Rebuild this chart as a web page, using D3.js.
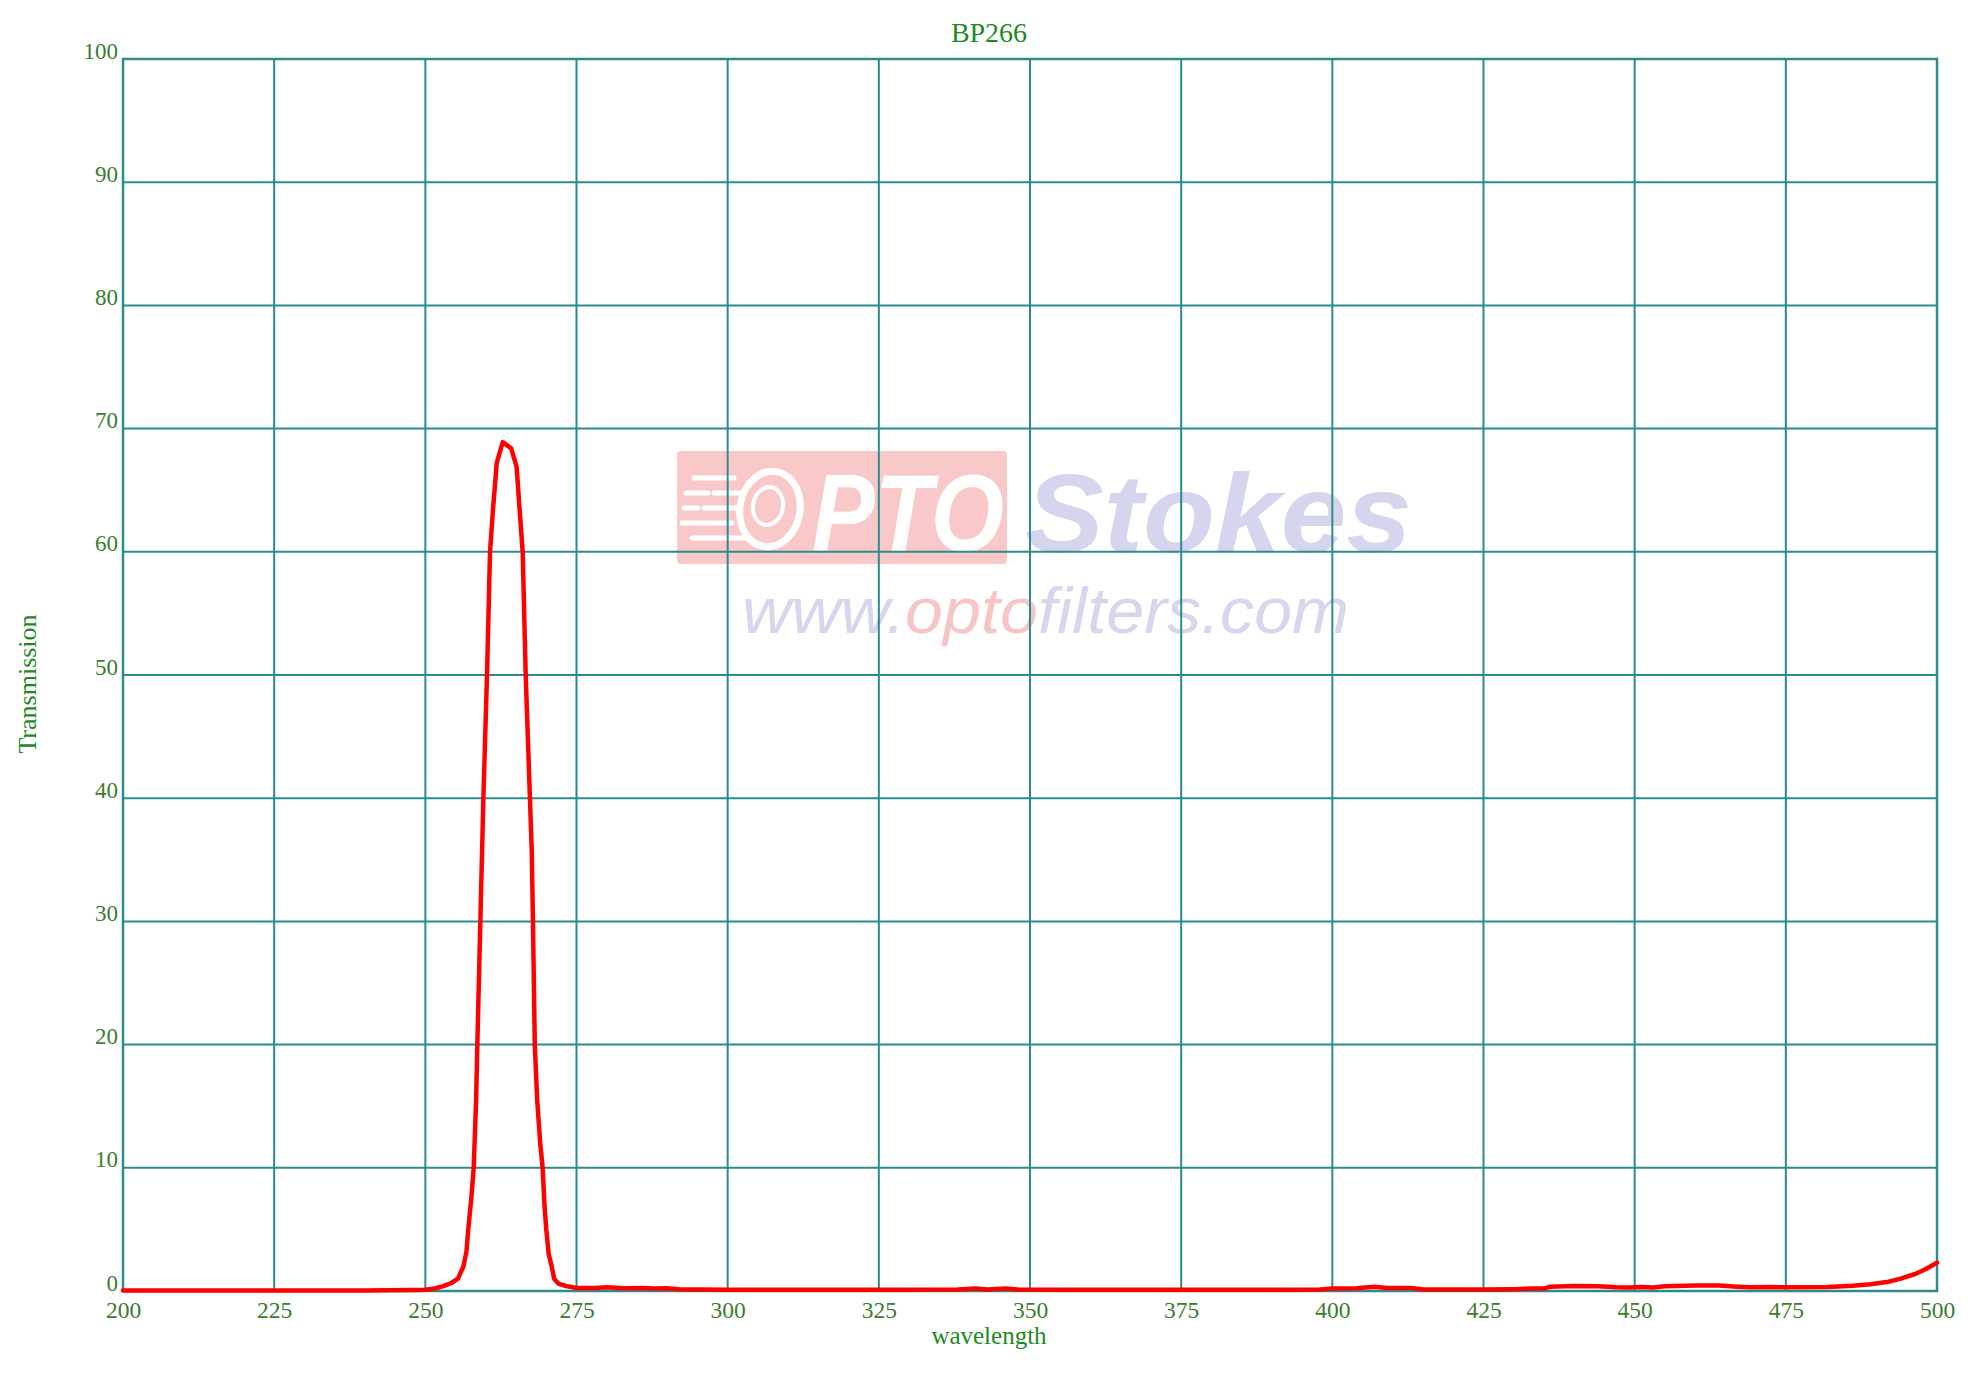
<!DOCTYPE html>
<html>
<head>
<meta charset="utf-8">
<script src="https://cdn.jsdelivr.net/npm/d3@7"></script>
<style>
  html, body { margin: 0; padding: 0; background: #ffffff; }
  svg { display: block; }
</style>
</head>
<body>
<svg id="chart" width="1973" height="1386"></svg>
<script>
// ---- data ----
const chartTitle = "BP266";
const xLabel = "wavelength";
const yLabel = "Transmission";
const xTicks = [200, 225, 250, 275, 300, 325, 350, 375, 400, 425, 450, 475, 500];
const yTicks = [0, 10, 20, 30, 40, 50, 60, 70, 80, 90, 100];
const wavelength = [
  200, 210, 220, 230, 240, 248, 250, 251.5, 253, 254.3, 255.4, 256.3, 256.8, 257.1, 257.6,
  258.0, 258.4, 258.6, 259.1, 259.6, 260.2, 260.7, 261.2, 261.5, 261.8, 262.8, 264.2, 265.1,
  265.6, 266.1, 266.6, 267.3, 267.6, 267.8, 268.1, 268.5, 269.0, 269.4, 269.7, 270.0, 270.4,
  270.9, 271.3, 272.0, 273.3, 275.0, 278, 280, 283, 286, 288, 290, 292, 300, 320, 338, 341,
  343, 346, 348, 360, 380, 398, 400, 404, 407, 409, 413, 415, 425, 430, 433, 435, 436, 440,
  444, 447, 449, 451, 453, 455, 460, 464, 467, 469, 472, 476, 482, 486, 489, 492, 494, 496.5,
  498, 500
];
const transmission = [
  0.05, 0.05, 0.05, 0.05, 0.05, 0.08, 0.1, 0.2, 0.4, 0.65, 1.0, 2.0, 3.2, 5.0, 7.5,
  10, 15.5, 20, 30, 40, 50, 60, 63.5, 65.3, 67.2, 68.9, 68.4, 66.9,
  63.4, 60, 50, 40, 35.7, 30, 20, 15.5, 12, 10, 7, 5, 3,
  2, 1.0, 0.6, 0.4, 0.25, 0.25, 0.3, 0.22, 0.25, 0.2, 0.22, 0.15, 0.1, 0.1, 0.12, 0.2,
  0.12, 0.2, 0.12, 0.1, 0.1, 0.12, 0.2, 0.22, 0.35, 0.25, 0.25, 0.12, 0.12, 0.15, 0.2, 0.2, 0.35, 0.4,
  0.38, 0.3, 0.28, 0.32, 0.28, 0.38, 0.45, 0.45, 0.35, 0.3, 0.32, 0.3, 0.32, 0.42, 0.55, 0.75, 1.0, 1.4,
  1.75, 2.3
];

(function () {
// ---- layout ----
const svg = d3.select("#chart");
const pLeft = 123, pRight = 1937, pTop = 59, pBottom = 1291;
const titleX = 989;
const x = d3.scaleLinear().domain([200, 500]).range([pLeft, pRight]);
const y = d3.scaleLinear().domain([0, 100]).range([pBottom, pTop]);

const gridColor = "#2a8c8c";
const tickColor = "#3a7d2e";
const titleColor = "#1e8a1e";
const serif = "'Liberation Serif', 'Times New Roman', serif";
const sans = "'Liberation Sans', Arial, sans-serif";

// ---- watermark ----
const wm = svg.append("g").attr("class", "watermark");
wm.append("rect").attr("x", 677).attr("y", 451).attr("width", 330).attr("height", 113)
  .attr("rx", 4).attr("fill", "#f9c8c8");
[[694, 478, 40], [686, 493, 22], [714, 493, 30], [684, 508, 14], [704, 508, 34],
 [682, 523, 50], [692, 538, 56]].forEach(d => {
  wm.append("line").attr("x1", d[0]).attr("x2", d[0] + d[2]).attr("y1", d[1]).attr("y2", d[1])
    .attr("stroke", "#ffffff").attr("stroke-width", 5).attr("stroke-linecap", "round");
});
wm.append("ellipse").attr("cx", 770).attr("cy", 509).attr("rx", 30).attr("ry", 38)
  .attr("transform", "rotate(10,770,509)")
  .attr("fill", "none").attr("stroke", "#ffffff").attr("stroke-width", 7);
wm.append("ellipse").attr("cx", 768).attr("cy", 506).attr("rx", 15).attr("ry", 19)
  .attr("transform", "rotate(10,768,506)")
  .attr("fill", "none").attr("stroke", "#ffffff").attr("stroke-width", 4);
wm.append("text").attr("x", 812).attr("y", 551).attr("textLength", 192)
  .attr("lengthAdjust", "spacingAndGlyphs")
  .style("font-family", sans).style("font-weight", "bold").style("font-style", "italic")
  .style("font-size", "110px").attr("fill", "#ffffff").text("PTO");
wm.append("text").attr("x", 1025).attr("y", 552).attr("textLength", 387)
  .attr("lengthAdjust", "spacingAndGlyphs")
  .style("font-family", sans).style("font-weight", "bold").style("font-style", "italic")
  .style("font-size", "112px").attr("fill", "#d5d5ee").text("Stokes");
const url = wm.append("text").attr("x", 742).attr("y", 633).attr("textLength", 607)
  .attr("lengthAdjust", "spacingAndGlyphs")
  .style("font-family", sans).style("font-style", "italic").style("font-size", "64px");
url.append("tspan").attr("fill", "#d6d6ec").text("www.");
url.append("tspan").attr("fill", "#f6c6c6").text("opto");
url.append("tspan").attr("fill", "#d6d6ec").text("filters.com");

// ---- grid ----
const grid = svg.append("g").attr("class", "grid");
grid.selectAll("line.v").data(xTicks).join("line").attr("class", "v")
  .attr("x1", d => x(d)).attr("x2", d => x(d)).attr("y1", pTop).attr("y2", pBottom)
  .attr("stroke", gridColor).attr("stroke-width", 2);
grid.selectAll("line.h").data(yTicks).join("line").attr("class", "h")
  .attr("x1", pLeft).attr("x2", pRight).attr("y1", d => y(d)).attr("y2", d => y(d))
  .attr("stroke", gridColor).attr("stroke-width", 2);
svg.append("rect").attr("x", pLeft).attr("y", pTop).attr("width", pRight - pLeft).attr("height", pBottom - pTop)
  .attr("fill", "none").attr("stroke", gridColor).attr("stroke-width", 2.5);

// ---- axes (D3 axes, lines hidden, labels styled) ----
const xAxis = svg.append("g").attr("transform", `translate(0,${pBottom})`)
  .call(d3.axisBottom(x).tickValues(xTicks).tickSize(0).tickPadding(10).tickFormat(d3.format("d")));
xAxis.select(".domain").remove();
xAxis.selectAll("text").style("font-family", serif).style("font-size", "23.5px").attr("fill", tickColor);

const yAxis = svg.append("g").attr("transform", `translate(${pLeft},0)`)
  .call(d3.axisLeft(y).tickValues(yTicks).tickSize(0).tickPadding(5).tickFormat(d3.format("d")));
yAxis.select(".domain").remove();
yAxis.selectAll("text").style("font-family", serif).style("font-size", "23px").attr("fill", tickColor)
  .attr("dy", "0").attr("y", -1);

// ---- series ----
const pts = wavelength.map((w, i) => [w, transmission[i]]);
svg.append("path").datum(pts)
  .attr("d", d3.line().x(d => x(d[0])).y(d => y(d[1])).curve(d3.curveLinear))
  .attr("fill", "none").attr("stroke", "#ff0000").attr("stroke-width", 4.5)
  .attr("stroke-linejoin", "round").attr("stroke-linecap", "round");

// ---- titles ----
svg.append("text").attr("x", titleX).attr("y", 42).attr("text-anchor", "middle")
  .style("font-family", serif).style("font-size", "28px").attr("fill", titleColor).text(chartTitle);
svg.append("text").attr("x", titleX).attr("y", 1344).attr("text-anchor", "middle")
  .style("font-family", serif).style("font-size", "25px").attr("fill", titleColor).text(xLabel);
svg.append("text").attr("transform", "translate(36,684) rotate(-90)").attr("text-anchor", "middle")
  .style("font-family", serif).style("font-size", "26px").attr("fill", titleColor).text(yLabel);
})();
</script>
</body>
</html>
